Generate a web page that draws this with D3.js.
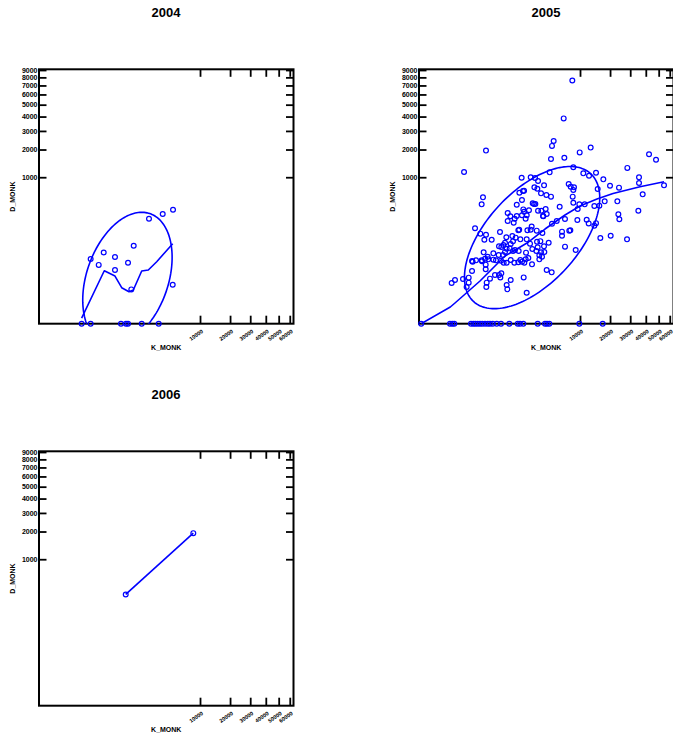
<!DOCTYPE html>
<html>
<head>
<meta charset="utf-8">
<script src="https://cdn.jsdelivr.net/npm/d3@7"></script>
<style>
  body { margin: 0; background: #fff; }
  svg text { font-family: "Liberation Sans", Arial, Helvetica, sans-serif; }
</style>
</head>
<body>
<svg id="chart" width="673" height="738"></svg>
<script>
// ---- data ---------------------------------------------------------------
const years = ["2004", "2005", "2006"];
const xTicks = [10000, 20000, 30000, 40000, 50000, 60000];
const yTicks = [1000, 2000, 3000, 4000, 5000, 6000, 7000, 8000, 9000];
const xMax = 63500;
const yMax = 9100;

const kMonk2004 = [94, 172, 240, 466, 466, 893, 1151, 1036, 2123, 3427, 4746, 4702,
                   42, 94, 637, 813, 893, 1604, 2997];
const dMonk2004 = [38, 26, 56, 43, 18, 30, 80, 3, 264, 314, 367, 5,
                   0, 0, 0, 0, 0, 0, 0];

const kMonk2005 = [
  8200, 6480, 4840, 4600, 277, 12970, 9920, 6600, 4460, 42350, 47800, 53, 8420, 28390, 4280,
  10860, 12470, 14680, 1600, 2260, 2640, 35380, 35380, 17300, 2930, 7440, 7850, 8570, 19980, 24070,
  54650, 2580, 2860, 3580, 1460, 1760, 15250, 8420, 229, 210, 3240, 3860, 4460, 37830, 8280,
  2430, 2670, 1310, 1620, 8420, 9830, 11230, 14130, 15830, 17820, 23270, 5780, 1710, 2120, 2930,
  3280, 3770, 3900, 9430, 34950, 879, 1310, 1620, 1950, 1760, 1870, 993, 879, 3500, 23750,
  24230, 6720, 5300, 4600, 9350, 11790, 12370, 1150, 1200, 14680, 14130, 132, 192, 277, 250,
  388, 606, 1400, 2340, 2800, 2000, 3390, 7780, 6180, 6180, 20260, 16190, 28210, 826, 1085,
  1117, 1008, 775, 716, 576, 648, 1252, 1519, 1946, 2204, 2828, 3168, 4151, 3576, 2893,
  6724, 8953, 839, 963, 1117, 1217, 1419, 1897, 2399, 2763, 3239, 239, 426, 566, 704,
  775, 105, 142, 210, 215, 261, 319, 426, 492, 638, 307, 727, 839, 1008, 1183,
  1519, 1873, 2071, 1624, 1400, 1779, 2370, 3063, 3349, 3063, 3615, 272, 272, 105, 3897,
  4556, 466, 576, 617, 648, 352, 289, 283, 80, 80, 67, 13.5, 20.5, 48, 1008,
  1734, 839, 866, 1946, 1690, 2546, 3458, 2258, 7560, 1450, 110,
  0, 10.8, 14.7, 18.9, 96.7, 116, 135, 160, 188, 219, 261, 308, 352, 411, 511,
  638, 947, 1364, 1499, 1709, 2897, 3694, 3939, 4235, 9825, 17060
];
const dMonk2005 = [
  7600, 3860, 2420, 2170, 1950, 2090, 1870, 1650, 1600, 1790, 1570, 1150, 1300, 1280, 1140,
  1110, 1040, 1130, 987, 997, 979, 997, 851, 943, 900, 827, 766, 751, 788, 744,
  796, 751, 722, 796, 640, 680, 715, 694, 554, 441, 627, 596, 566, 608, 566,
  456, 446, 436, 508, 466, 441, 441, 417, 422, 487, 487, 407, 371, 359, 354,
  354, 376, 314, 376, 354, 326, 292, 300, 300, 342, 264, 289, 242, 289, 311,
  258, 261, 242, 217, 251, 254, 220, 226, 264, 222, 200, 180, 143, 136, 108,
  108, 154, 165, 193, 163, 166, 147, 165, 156, 130, 130, 117, 110, 121, 128,
  100, 87.6, 93.6, 83.3, 77.8, 75.2, 119, 110, 110, 89.1, 98.3, 101, 93.6, 77.8, 73.9,
  76.5, 64.1, 68.8, 70, 60.7, 64, 60.7, 55.3, 67.6, 60.7, 56.3, 56.3, 53.2, 48.4, 48.4,
  57.4, 33.6, 35, 35, 32.9, 38.8, 37.3, 36.6, 35, 34.3, 43.8, 30.1, 30.1, 35.7, 30.1,
  35.7, 37.3, 40.5, 32.2, 31, 30.1, 27, 37.3, 43.8, 47.4, 57.4, 26.4, 19, 16.8, 18.1,
  15.1, 12.2, 12.2, 10, 14, 8.93, 6.16, 3.94, 9.75, 6.16, 3.94, 5.96, 7.92, 8.67, 7.92,
  10, 4.87, 3.03, 2.01, 673, 446, 292, 170, 163, 170, 32,
  0, 0, 0, 0, 0, 0, 0, 0, 0, 0, 0, 0, 0, 0, 0,
  0, 0, 0, 0, 0, 0, 0, 0, 0, 0, 0
];

const kMonk2006 = [802, 8416];
const dMonk2006 = [333, 1927];

// smoothed (lowess) curves
const lowessK2004 = [42, 249, 466, 660, 934, 1132, 1604, 2069, 2798, 4702];
const lowessD2004 = [0.002, 17.1, 11.2, 3.65, 2.28, 2.8, 16.8, 18, 32.1, 88.9];
const lowessK2005 = [0, 11.3, 20.5, 188, 775, 1970, 3694, 6724, 10000, 15010, 21280, 36040, 54650];
const lowessD2005 = [0, 0.169, 0.399, 7.22, 45.6, 92.1, 174.6, 303, 417, 525, 624, 765, 883];
const lowessK2006 = [802, 8416];
const lowessD2006 = [333, 1927];

const ellipseAlpha = 0.33;

// ---- layout -------------------------------------------------------------
const panels = [
  { year: years[0], ox: 0,   oy: 0,   k: kMonk2004, d: dMonk2004, lk: lowessK2004, ld: lowessD2004 },
  { year: years[1], ox: 380, oy: 0,   k: kMonk2005, d: dMonk2005, lk: lowessK2005, ld: lowessD2005 },
  { year: years[2], ox: 0,   oy: 382, k: kMonk2006, d: dMonk2006, lk: lowessK2006, ld: lowessD2006 }
];

const frame = { left: 39, right: 293.5, top: 69.3, bottom: 323.7 };
const BLUE = "#0000ff";

const x = d3.scalePow().exponent(0.25).domain([0, xMax]).range([41.2, 293.3]);
const y = d3.scalePow().exponent(0.25).domain([0, yMax]).range([frame.bottom, frame.top]);

// prediction ellipse, computed on the fourth-root scale of both variables
function predictionEllipse(ks, ds, alpha) {
  const u = ks.map(v => Math.pow(v, 0.25));
  const w = ds.map(v => Math.pow(v, 0.25));
  const n = u.length;
  const mu = d3.mean(u), mw = d3.mean(w);
  let suu = 0, sww = 0, suw = 0;
  for (let i = 0; i < n; i++) {
    suu += (u[i] - mu) ** 2;
    sww += (w[i] - mw) ** 2;
    suw += (u[i] - mu) * (w[i] - mw);
  }
  suu /= n - 1; sww /= n - 1; suw /= n - 1;
  const m = n - 2;
  const F = (m / 2) * (Math.pow(alpha, -2 / m) - 1);
  const c = Math.sqrt(2 * (n + 1) * (n - 1) / (n * (n - 2)) * F);
  const l11 = Math.sqrt(suu), l21 = suw / l11, l22 = Math.sqrt(sww - l21 * l21);
  const back = t => Math.sign(t) * Math.pow(Math.abs(t), 4);
  return d3.range(0, 361, 2).map(deg => {
    const t = deg * Math.PI / 180, a = Math.cos(t), b = Math.sin(t);
    return [back(mu + c * l11 * a), back(mw + c * (l21 * a + l22 * b))];
  });
}

const svg = d3.select("#chart");
svg.append("rect").attr("width", 673).attr("height", 738).attr("fill", "#fff");

panels.forEach((p, idx) => {
  const g = svg.append("g").attr("transform", `translate(${p.ox},${p.oy})`);
  const clipId = "clip" + idx;
  g.append("clipPath").attr("id", clipId)
    .append("rect")
    .attr("x", frame.left).attr("y", frame.top)
    .attr("width", frame.right - frame.left).attr("height", frame.bottom - frame.top);

  // title
  g.append("text")
    .attr("x", 166).attr("y", 16.5)
    .attr("text-anchor", "middle")
    .attr("font-size", 13).attr("font-weight", "bold")
    .text(p.year);

  // axes: inward ticks on all four sides
  const tickStyle = sel => {
    sel.select(".domain").remove();
    sel.selectAll("line").attr("stroke", "#000").attr("stroke-width", 1.8);
  };

  const left = g.append("g").attr("transform", `translate(${frame.left},0)`)
    .call(d3.axisLeft(y).tickValues(yTicks).tickSize(-7.5).tickPadding(1.5).tickFormat(d3.format("d")));
  tickStyle(left);
  left.selectAll("text").attr("font-size", 7).attr("font-weight", "bold")
    .attr("font-family", "Liberation Sans, Arial, sans-serif").attr("fill", "#000");

  const right = g.append("g").attr("transform", `translate(${frame.right},0)`)
    .call(d3.axisRight(y).tickValues(yTicks).tickSize(-7.5).tickFormat(""));
  tickStyle(right);

  const top = g.append("g").attr("transform", `translate(0,${frame.top})`)
    .call(d3.axisTop(x).tickValues(xTicks).tickSize(-7.5).tickFormat(""));
  tickStyle(top);

  const bottom = g.append("g").attr("transform", `translate(0,${frame.bottom})`)
    .call(d3.axisBottom(x).tickValues(xTicks).tickSize(-8).tickFormat(d3.format("d")));
  tickStyle(bottom);
  bottom.selectAll("text")
    .attr("font-size", 5.5).attr("font-weight", "bold")
    .attr("font-family", "Liberation Sans, Arial, sans-serif").attr("fill", "#000")
    .attr("text-anchor", "end")
    .attr("x", 3).attr("y", 8.5).attr("dy", 0)
    .attr("transform", "rotate(-35,3,8.5)");

  // frame
  g.append("rect")
    .attr("x", frame.left).attr("y", frame.top)
    .attr("width", frame.right - frame.left).attr("height", frame.bottom - frame.top)
    .attr("fill", "none").attr("stroke", "#000").attr("stroke-width", 2);

  // axis titles
  g.append("text")
    .attr("x", (frame.left + frame.right) / 2).attr("y", 349.8)
    .attr("text-anchor", "middle")
    .attr("font-size", 7).attr("font-weight", "bold")
    .text("K_MONK");
  g.append("text")
    .attr("transform", `translate(14.8,${(frame.top + frame.bottom) / 2}) rotate(-90)`)
    .attr("text-anchor", "middle")
    .attr("font-size", 7).attr("font-weight", "bold")
    .text("D_MONK");

  const plot = g.append("g").attr("clip-path", `url(#${clipId})`);

  // prediction ellipse
  if (p.k.length > 2) {
    const ell = predictionEllipse(p.k, p.d, ellipseAlpha);
    plot.append("path")
      .attr("d", d3.line().x(v => x(v[0])).y(v => y(v[1]))(ell))
      .attr("fill", "none").attr("stroke", BLUE).attr("stroke-width", 1.6);
  }

  // smoothed curve
  const smooth = p.lk.map((k, i) => [k, p.ld[i]]);
  plot.append("path")
    .attr("d", d3.line().x(v => x(v[0])).y(v => y(v[1]))(smooth))
    .attr("fill", "none").attr("stroke", BLUE).attr("stroke-width", 1.6)
    .attr("stroke-linejoin", "round");

  // observations
  g.append("g").selectAll("circle")
    .data(p.k.map((k, i) => [k, p.d[i]]))
    .join("circle")
    .attr("cx", v => x(v[0])).attr("cy", v => y(v[1]))
    .attr("r", 2.4)
    .attr("fill", "none").attr("stroke", BLUE).attr("stroke-width", 1.2);
});
</script>
</body>
</html>
